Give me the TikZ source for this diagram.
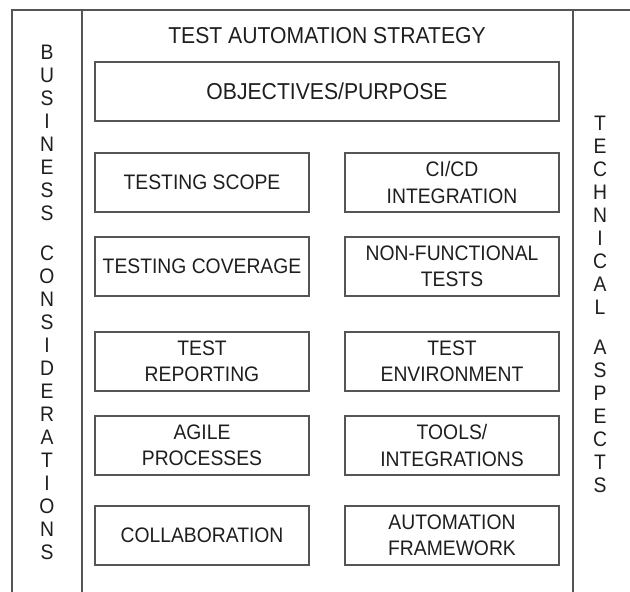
\documentclass[tikz,border=0pt]{standalone}
\usepackage{fontspec}
\setmainfont{Liberation Sans}[FakeStretch=0.92]
\definecolor{linegray}{HTML}{555555}
\definecolor{textdark}{HTML}{1E1E1E}
\begin{document}
\begin{tikzpicture}[x=1pt,y=-1pt,
  frameline/.style={draw=linegray, line width=1.4pt},
  box/.style={draw=linegray, line width=1.4pt, minimum width=214pt, minimum height=59pt,
    inner sep=0pt, align=center, text=textdark, font=\fontsize{21}{26.5}\selectfont},
  bigbox/.style={box, minimum width=464pt, font=\fontsize{23}{27}\selectfont},
  sidetext/.style={inner sep=0pt, anchor=north, align=center, text=textdark,
    font=\fontsize{21}{23}\selectfont},
  titletext/.style={inner sep=0pt, text=textdark, font=\fontsize{23}{27}\selectfont}]
\useasboundingbox (0,0) rectangle (630,592);
% frame
\coordinate (lb) at (12,592);
\coordinate (lt) at (12,10);
\coordinate (rt) at (630,10);
\coordinate (ilt) at (82,10);
\coordinate (ilb) at (82,592);
\coordinate (irt) at (573,10);
\coordinate (irb) at (573,592);
\draw[frameline] (lb) -- (lt) -- (rt);
\draw[frameline] (ilt) -- (ilb);
\draw[frameline] (irt) -- (irb);
% titles
\node[titletext] (title) at (327,36) {TEST AUTOMATION STRATEGY};
\node[bigbox] (obj) at (327,91.5) {OBJECTIVES/PURPOSE};
% left column
\node[box] (scope) at (202,182.5) {TESTING SCOPE};
\node[box] (coverage) at (202,266.5) {TESTING COVERAGE};
\node[box] (reporting) at (202,361.5) {TEST\\REPORTING};
\node[box] (agile) at (202,445.5) {AGILE\\PROCESSES};
\node[box] (collab) at (202,535.5) {COLLABORATION};
% right column
\node[box] (cicd) at (452,182.5) {CI/CD\\INTEGRATION};
\node[box] (nonfunc) at (452,266.5) {NON-FUNCTIONAL\\TESTS};
\node[box] (env) at (452,361.5) {TEST\\ENVIRONMENT};
\node[box] (tools) at (452,445.5) {TOOLS/\\INTEGRATIONS};
\node[box] (framework) at (452,535.5) {AUTOMATION\\FRAMEWORK};
% side texts
\node[sidetext] (business) at (47,44.5)
  {B\\U\\S\\I\\N\\E\\S\\S\\[17pt]C\\O\\N\\S\\I\\D\\E\\R\\A\\T\\I\\O\\N\\S};
\node[sidetext] (technical) at (600,115.5)
  {T\\E\\C\\H\\N\\I\\C\\A\\L\\[17pt]A\\S\\P\\E\\C\\T\\S};
\end{tikzpicture}
\end{document}
